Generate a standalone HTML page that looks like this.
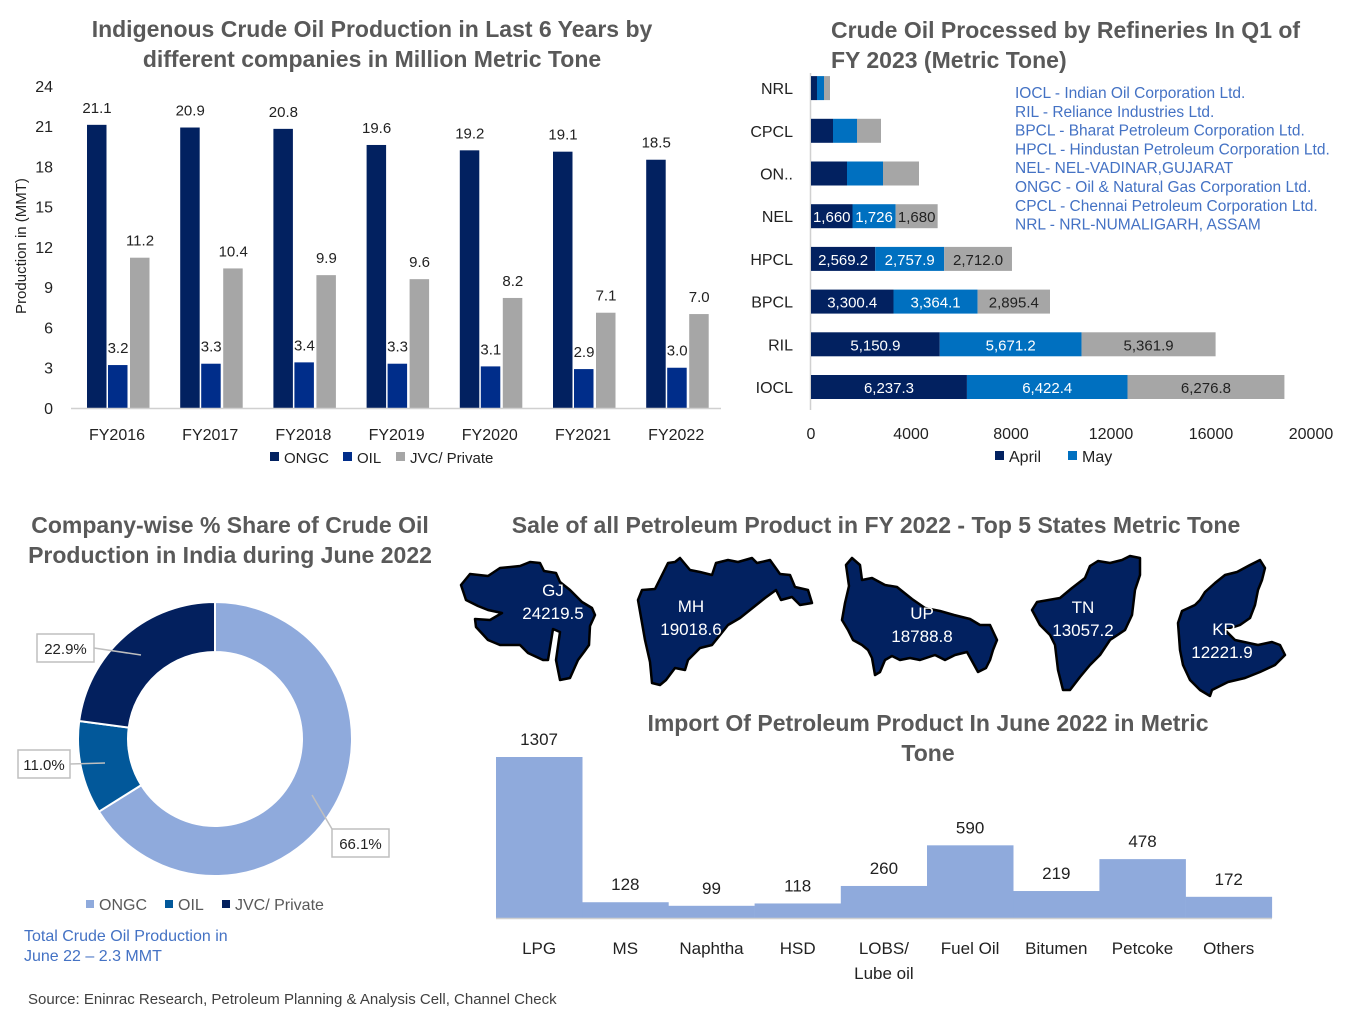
<!DOCTYPE html>
<html><head><meta charset="utf-8"><style>
body{margin:0;background:#fff;}
svg{display:block;font-family:"Liberation Sans",sans-serif;}
</style></head><body>
<svg id="s" width="1350" height="1019" viewBox="0 0 1350 1019">
<g font-size="23" font-weight="bold" fill="#595959" text-anchor="middle">
<text x="372" y="37">Indigenous Crude Oil Production in Last 6 Years by</text>
<text x="372" y="67">different companies in Million Metric Tone</text></g>
<g font-size="23" font-weight="bold" fill="#595959">
<text x="831" y="38">Crude Oil Processed by Refineries In Q1 of</text>
<text x="831" y="68">FY 2023 (Metric Tone)</text></g>
<g font-size="23" font-weight="bold" fill="#595959" text-anchor="middle">
<text x="230" y="533">Company-wise % Share of Crude Oil</text>
<text x="230" y="563">Production in India during June 2022</text></g>
<text x="876" y="533" font-size="23" font-weight="bold" fill="#595959" text-anchor="middle">Sale of all Petroleum Product in FY 2022 - Top 5 States Metric Tone</text>
<g font-size="23" font-weight="bold" fill="#595959" text-anchor="middle">
<text x="928" y="731">Import Of Petroleum Product In June 2022 in Metric</text>
<text x="928" y="761">Tone</text></g>
<g id="c1"></g><g id="c2"></g><g id="c3"></g><g id="maps"></g><g id="c4"></g>
<text x="28" y="1004" font-size="15" fill="#404040">Source: Eninrac Research, Petroleum Planning &amp; Analysis Cell, Channel Check</text>
<g font-size="16" fill="#4472c4">
<text x="24" y="941">Total Crude Oil Production in</text><text x="24" y="961">June 22 – 2.3 MMT</text></g>
</svg>
<script>
const NS="http://www.w3.org/2000/svg";
function mk(p,t,a,txt){const e=document.createElementNS(NS,t);for(const k in a)e.setAttribute(k,a[k]);if(txt!==undefined)e.textContent=txt;p.appendChild(e);return e;}

// Chart 1 data
const years=["FY2016","FY2017","FY2018","FY2019","FY2020","FY2021","FY2022"];
const ongc=[21.1,20.9,20.8,19.6,19.2,19.1,18.5];
const oil=[3.2,3.3,3.4,3.3,3.1,2.9,3.0];
const jvc=[11.2,10.4,9.9,9.6,8.2,7.1,7.0];
const yTicks1=[0,3,6,9,12,15,18,21,24];
// Chart 2 data
const refiners=["IOCL","RIL","BPCL","HPCL","NEL","ONGC","CPCL","NRL"];
const april=[6237.3,5150.9,3300.4,2569.2,1660,1440,880,240];
const may=[6422.4,5671.2,3364.1,2757.9,1726,1440,960,280];
const june=[6276.8,5361.9,2895.4,2712.0,1680,1440,960,240];
const xTicks2=[0,4000,8000,12000,16000,20000];
// Chart 3 data
const shareLabels=["ONGC","OIL","JVC/ Private"];
const shares=[66.1,11.0,22.9];
// Chart 4 data
const products=["LPG","MS","Naphtha","HSD","LOBS/|Lube oil","Fuel Oil","Bitumen","Petcoke","Others"];
const imports=[1307,128,99,118,260,590,219,478,172];

// ---- Chart 1
(function(){
const g=document.getElementById('c1');
const y=v=>408-v*13.42;
const cx=i=>117+i*93.2;
yTicks1.forEach(t=>{const e=mk(g,'text',{x:53,y:y(t)+6,'font-size':16,fill:'#222','text-anchor':'end'},t);
});
const yt=mk(g,'text',{x:0,y:0,'font-size':15,fill:'#222','text-anchor':'middle',transform:'translate(26,246) rotate(-90)'},'Production in (MMT)');

const ser=[[ongc,'#022160',-30],[oil,'#002d8a',-9],[jvc,'#a6a6a6',13]];
years.forEach((yr,i)=>{
 ser.forEach(([d,c,o],k)=>{
  const r=mk(g,'rect',{x:cx(i)+o,y:y(d[i]),width:19.5,height:408-y(d[i]),fill:c});
  
  const l=mk(g,'text',{x:cx(i)+o+10,y:y(d[i])-12,'font-size':15,fill:'#222','text-anchor':'middle'},d[i].toFixed(1));
  
 });
 const t=mk(g,'text',{x:cx(i),y:440,'font-size':16,fill:'#222','text-anchor':'middle'},yr);
 
});
const ax=mk(g,'line',{x1:71,x2:721,y1:408.5,y2:408.5,stroke:'#d0d0d0','stroke-width':1.5});

const lg=mk(g,'g',{});
[['ONGC','#022160',270],['OIL','#002d8a',343],['JVC/ Private','#a6a6a6',396]].forEach(([n,c,x])=>{
 const it=mk(lg,'g',{});
 mk(it,'rect',{x:x,y:452,width:9,height:9,fill:c});mk(it,'text',{x:x+14,y:463,'font-size':15,fill:'#222'},n);
});
})();

// ---- Chart 2
(function(){
const g=document.getElementById('c2');
const x=v=>811+v*0.025;
const cy=i=>387-i*42.7;
mk(g,'line',{x1:810.5,x2:810.5,y1:73,y2:410,stroke:'#d0d0d0','stroke-width':1.5});
xTicks2.forEach(t=>{const e=mk(g,'text',{x:x(t),y:439,'font-size':16,fill:'#222','text-anchor':'middle'},t);
});
refiners.forEach((n,i)=>{
 const lab=i==5?'ON..':n;
 const t=mk(g,'text',{x:793,y:cy(i)+6,'font-size':16,fill:'#222','text-anchor':'end'},lab);
 
 let acc=0;
 [[april,'#022160','#fff'],[may,'#0070c0','#fff'],[june,'#a6a6a6','#222']].forEach(([d,c,tc],k)=>{
  const r=mk(g,'rect',{x:x(acc),y:cy(i)-12,width:x(acc+d[i])-x(acc),height:24,fill:c});
  
  if(i<=4){const v=i==4?d[i].toLocaleString('en-US'):d[i].toLocaleString('en-US',{minimumFractionDigits:1,maximumFractionDigits:1});
   const l=mk(g,'text',{x:(x(acc)+x(acc+d[i]))/2,y:cy(i)+6,'font-size':15,fill:tc,'text-anchor':'middle'},v);
   }
  acc+=d[i];
 });
});
const notes=["IOCL - Indian Oil Corporation Ltd.","RIL - Reliance Industries Ltd.","BPCL - Bharat Petroleum Corporation Ltd.","HPCL - Hindustan Petroleum Corporation Ltd.","NEL- NEL-VADINAR,GUJARAT","ONGC - Oil & Natural Gas Corporation Ltd.","CPCL - Chennai Petroleum Corporation Ltd.","NRL - NRL-NUMALIGARH, ASSAM"];
const ng=mk(g,'g',{});
notes.forEach((n,i)=>mk(ng,'text',{x:1015,y:98+i*18.8,'font-size':15.5,fill:'#4472c4'},n));
const lg=mk(g,'g',{});
[['April','#022160',995],['May','#0070c0',1068]].forEach(([n,c,xx])=>{
 const it=mk(lg,'g',{});
 mk(it,'rect',{x:xx,y:451,width:9,height:9,fill:c});mk(it,'text',{x:xx+14,y:462,'font-size':16,fill:'#222'},n);
});
})();

// ---- Chart 3 donut
(function(){
const g=document.getElementById('c3');
const cx=215,cy=739,R=137,r=87;
const cols=['#8faadc','#02589a','#03205e'];
const total=shares.reduce((a,b)=>a+b,0);
let a0=0;
const pt=(a,rad)=>[cx+rad*Math.sin(a),cy-rad*Math.cos(a)];
shares.forEach((v,i)=>{
 const a1=a0+v/total*2*Math.PI;
 const [x1,y1]=pt(a0,R),[x2,y2]=pt(a1,R),[x3,y3]=pt(a1,r),[x4,y4]=pt(a0,r);
 const lf=(a1-a0)>Math.PI?1:0;
 const p=mk(g,'path',{d:`M${x1},${y1}A${R},${R} 0 ${lf} 1 ${x2},${y2}L${x3},${y3}A${r},${r} 0 ${lf} 0 ${x4},${y4}Z`,fill:cols[i],stroke:'#fff','stroke-width':2});
 
 a0=a1;
});
const boxes=[[332,829,57,28,'66.1%',312,795],[18,750,52,28,'11.0%',105,763],[37,634,57,28,'22.9%',141,655]];
boxes.forEach(([bx,by,bw,bh,t,lx,ly],i)=>{
 const gg=mk(g,'g',{});
 mk(gg,'polyline',{points:i==0?`${lx},${ly} ${bx},${by}`:`${lx},${ly} ${bx+bw},${by+bh/2}`,stroke:'#bfbfbf','stroke-width':1.5,fill:'none'});
 mk(gg,'rect',{x:bx,y:by,width:bw,height:bh,fill:'#fff',stroke:'#bfbfbf','stroke-width':1.5});
 mk(gg,'text',{x:bx+bw/2,y:by+20,'font-size':15,fill:'#222','text-anchor':'middle'},t);
});
const lg=mk(g,'g',{});
[[86],[165],[222]].forEach(([xx],i)=>{
 const it=mk(lg,'g',{});
 mk(it,'rect',{x:xx,y:900,width:8,height:8,fill:cols[i]});mk(it,'text',{x:xx+13,y:910,'font-size':16,fill:'#595959'},shareLabels[i]);
});
})();

// ---- Maps (decorative)
(function(){
const g=document.getElementById('maps');
const shapes=[
 ['GJ','24219.5',"M461,585 L470,574 L488,576 L500,568 L520,566 L530,562 L540,563 L544,571 L556,573 L560,582 L570,590 L582,602 L592,608 L595,615 L590,626 L589,645 L584,652 L578,660 L570,678 L560,680 L556,660 L560,632 L553,629 L548,660 L543,660 L528,653 L520,645 L500,645 L488,640 L476,627 L475,619 L490,620 L502,613 L488,610 L478,606 L466,600 Z",553,596,553,619],
 ['MH','19018.6',"M638,600 L642,590 L655,589 L662,575 L668,563 L675,562 L680,558 L690,570 L700,572 L712,575 L716,563 L728,560 L738,562 L752,558 L757,563 L770,560 L780,574 L790,575 L795,587 L808,590 L812,603 L800,605 L792,597 L781,600 L776,590 L765,598 L750,610 L740,618 L728,625 L712,645 L700,648 L688,660 L685,670 L675,668 L666,680 L660,685 L652,683 L650,662 L645,640 Z",691,612,691,635],
 ['UP','18788.8',"M842,620 L845,603 L849,586 L846,565 L852,558 L860,565 L862,580 L872,578 L885,585 L897,587 L912,599 L925,608 L940,611 L954,615 L970,619 L980,625 L990,625 L997,640 L993,650 L990,660 L986,668 L978,672 L967,652 L955,655 L945,660 L935,655 L920,660 L910,658 L900,660 L892,656 L885,660 L880,672 L875,675 L872,658 L868,650 L862,645 L853,640 L848,630 Z",922,619,922,642],
 ['TN','13057.2',"M1032,610 L1037,602 L1060,598 L1072,588 L1085,578 L1090,566 L1098,561 L1110,563 L1122,560 L1130,556 L1140,558 L1140,575 L1135,590 L1132,615 L1125,630 L1110,640 L1100,655 L1090,665 L1080,677 L1070,690 L1063,690 L1060,678 L1058,670 L1055,645 L1050,635 L1040,625 Z",1083,613,1083,636],
 ['KR','12221.9',"M1178,623 L1182,611 L1195,605 L1200,600 L1205,592 L1215,583 L1225,575 L1237,572 L1250,565 L1260,560 L1265,568 L1262,580 L1258,590 L1255,605 L1250,618 L1240,625 L1225,630 L1235,640 L1258,645 L1272,642 L1280,645 L1285,655 L1275,665 L1260,672 L1245,678 L1228,682 L1212,690 L1210,696 L1200,690 L1190,680 L1183,665 L1180,650 Z",1224,635,1222,658]
];
shapes.forEach(([n,v,d,tx,ty,vx,vy])=>{
 const gg=mk(g,'g',{});
 mk(gg,'path',{d:d,fill:'#022160',stroke:'#000','stroke-width':2.5,'stroke-linejoin':'round'});
 mk(gg,'text',{x:tx,y:ty,'font-size':17,fill:'#fff','text-anchor':'middle'},n);
 mk(gg,'text',{x:vx,y:vy,'font-size':17,fill:'#fff','text-anchor':'middle'},v);
});
})();

// ---- Chart 4
(function(){
const g=document.getElementById('c4');
const base=918,k=161/1307,x0=496,w=86.2;
products.forEach((p,i)=>{
 const h=imports[i]*k;
 const r=mk(g,'rect',{x:x0+i*w,y:base-h,width:w+0.3,height:h,fill:'#8faadc'});
 
 const l=mk(g,'text',{x:x0+i*w+w/2,y:base-h-12,'font-size':17,fill:'#222','text-anchor':'middle'},imports[i]);
 
 p.split('|').forEach((s,j)=>{const t=mk(g,'text',{x:x0+i*w+w/2,y:954+j*25,'font-size':17,fill:'#222','text-anchor':'middle'},s);
  });
});
const ax=mk(g,'line',{x1:496,x2:1272,y1:918.5,y2:918.5,stroke:'#d0d0d0','stroke-width':1.5});

})();
</script>
</body></html>
